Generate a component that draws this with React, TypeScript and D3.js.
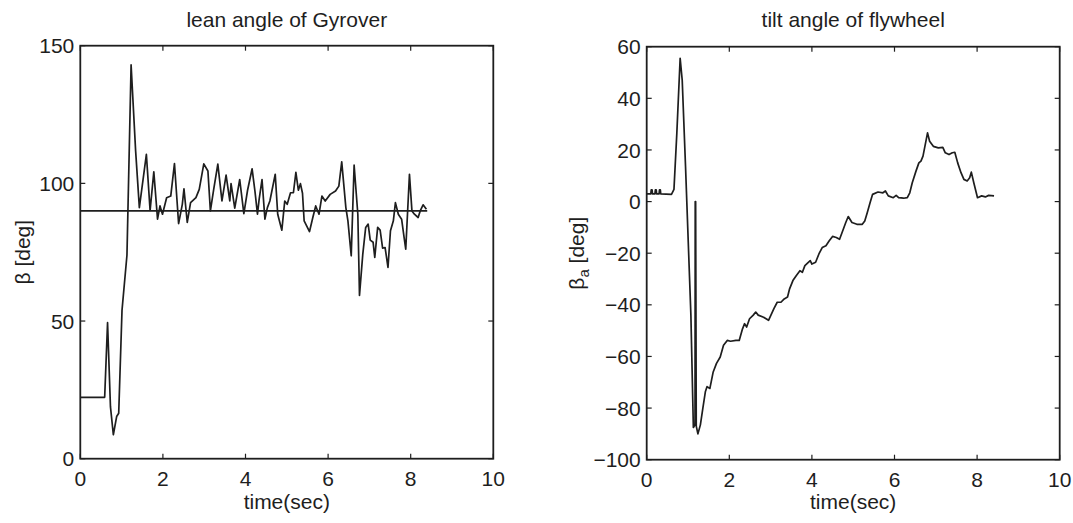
import React from "react";
import * as d3 from "d3";

// Lean angle of Gyrover (deg) over time (sec)
const leanTime = [0, 0.59, 0.66, 0.73, 0.8, 0.88, 0.93, 1.01, 1.13, 1.23, 1.34, 1.43, 1.6, 1.69, 1.78, 1.87, 1.93, 1.99, 2.09, 2.19, 2.28, 2.38, 2.47, 2.51, 2.59, 2.67, 2.8, 2.88, 2.99, 3.09, 3.15, 3.23, 3.33, 3.43, 3.53, 3.62, 3.65, 3.74, 3.86, 3.96, 4.05, 4.16, 4.23, 4.29, 4.33, 4.4, 4.47, 4.53, 4.59, 4.72, 4.78, 4.88, 4.95, 5.01, 5.09, 5.16, 5.22, 5.28, 5.33, 5.38, 5.42, 5.55, 5.63, 5.7, 5.78, 5.85, 5.93, 6.05, 6.18, 6.26, 6.33, 6.43, 6.48, 6.56, 6.63, 6.72, 6.76, 6.84, 6.91, 6.97, 7.02, 7.09, 7.13, 7.2, 7.26, 7.32, 7.38, 7.45, 7.51, 7.58, 7.63, 7.7, 7.78, 7.84, 7.88, 7.97, 8.03, 8.09, 8.18, 8.23, 8.3, 8.38];
const leanDeg = [22.3, 22.3, 49.4, 18.9, 8.7, 15.3, 16.5, 53.9, 74, 143, 111.7, 91.2, 110.5, 90.2, 104.2, 87, 91.8, 88.8, 94.8, 95.4, 107.2, 85.4, 92.4, 98, 85.8, 93, 94.8, 97.8, 107.1, 104.5, 90, 97.8, 107, 93.6, 103, 93.6, 99.9, 91, 101.4, 89, 97.5, 105.3, 97, 88.8, 94.2, 101.4, 87, 91.2, 93.6, 103.3, 88.8, 83, 93.6, 92.4, 96.6, 96.6, 104, 97.5, 99.9, 96.4, 86.4, 82.5, 87.6, 91.8, 88.8, 95.4, 93.6, 96, 97.2, 99, 107.8, 91.2, 86.4, 73.7, 106.6, 88.8, 59.3, 74.3, 84, 85.2, 79.4, 78.6, 73.1, 84, 83, 76.5, 76.7, 69.5, 82.8, 86.4, 93, 88.8, 87, 80.4, 76.1, 103.3, 90, 88.8, 87.6, 90, 92.2, 90.6];

// Upright reference (deg) held over the run
const refTime = [0, 8.4];
const refDeg = [90, 90];

// Tilt angle of the flywheel (deg) over time (sec)
const tiltTime = [0, 0.1, 0.11, 0.13, 0.14, 0.2, 0.21, 0.23, 0.24, 0.3, 0.31, 0.33, 0.34, 0.6, 0.66, 0.73, 0.81, 0.86, 0.94, 1.07, 1.13, 1.17, 1.175, 1.185, 1.2, 1.24, 1.3, 1.36, 1.42, 1.46, 1.53, 1.61, 1.69, 1.78, 1.86, 1.95, 2.03, 2.16, 2.24, 2.32, 2.37, 2.42, 2.49, 2.58, 2.64, 2.7, 2.83, 2.95, 3.08, 3.16, 3.25, 3.33, 3.41, 3.46, 3.54, 3.62, 3.71, 3.77, 3.83, 3.92, 3.96, 4.0, 4.09, 4.17, 4.25, 4.34, 4.42, 4.5, 4.59, 4.67, 4.76, 4.82, 4.88, 4.97, 5.09, 5.22, 5.28, 5.34, 5.41, 5.47, 5.6, 5.72, 5.78, 5.85, 5.97, 6.04, 6.1, 6.22, 6.31, 6.37, 6.43, 6.52, 6.59, 6.64, 6.69, 6.8, 6.85, 6.94, 7.06, 7.17, 7.23, 7.32, 7.4, 7.46, 7.53, 7.61, 7.68, 7.76, 7.82, 7.86, 7.92, 8.01, 8.11, 8.2, 8.28, 8.41];
const tiltDeg = [3, 3, 4.5, 4.5, 3, 3, 4.5, 4.5, 3, 3, 4.5, 4.5, 3, 2.8, 4.7, 26.6, 55.5, 47, 13.7, -44, -87.5, -86.5, 0, 0, -87, -90, -86.5, -80, -73.7, -71.7, -72.4, -66, -62.7, -60.2, -55.7, -53.8, -54.1, -53.8, -53.8, -49.3, -47.3, -48.6, -45.4, -44, -42.8, -44, -44.8, -46, -41.5, -39, -39, -37.7, -37, -33.8, -30.6, -28.7, -26.8, -27.4, -24.8, -23.5, -22.9, -24.2, -23.5, -20.3, -17.8, -17.1, -15.2, -13.5, -13.9, -14.6, -10.7, -8.1, -5.8, -8.1, -8.8, -8.8, -7.5, -4.3, -0.4, 2.8, 3.7, 3.4, 4.1, 2.2, 1.5, 2.4, 1.5, 1.3, 1.5, 3.4, 7.3, 11.8, 15, 15.7, 17.6, 26.6, 23.4, 21.4, 20.8, 21, 18.9, 18.2, 18.9, 19.1, 15, 11.2, 8.6, 8, 9.2, 11.4, 7.3, 1.5, 2.2, 1.8, 2.4, 2.2];

// Axis ticks
const timeTicks = [0, 2, 4, 6, 8, 10];
const leanTicks = [0, 50, 100, 150];
const tiltTicks = [-100, -80, -60, -40, -20, 0, 20, 40, 60];

const INK = "#1e1e1e";
const FONT = "'Liberation Sans', Arial, Helvetica, sans-serif";
const SIZE = 413;
const TICK = 5;
const FS = 21;

type Series = { t: number[]; v: number[] };

function Panel(props: {
  left: number;
  top: number;
  yDomain: [number, number];
  yTicks: number[];
  title: string;
  yLabel: React.ReactNode;
  yLabelX: number;
  series: Series[];
}) {
  const { left, top, yDomain, yTicks, title, yLabel, yLabelX, series } = props;
  const x = d3.scaleLinear().domain([0, 10]).range([left, left + SIZE]);
  const y = d3.scaleLinear().domain(yDomain).range([top + SIZE, top]);
  const bottom = top + SIZE;
  const right = left + SIZE;
  const cx = left + SIZE / 2;
  const cy = top + SIZE / 2;

  const line = d3
    .line<[number, number]>()
    .x((d) => x(d[0]))
    .y((d) => y(d[1]));

  return (
    <g fontFamily={FONT} fill={INK}>
      {series.map((s, i) => (
        <path
          key={i}
          d={line(s.t.map((t, j) => [t, s.v[j]] as [number, number])) || ""}
          fill="none"
          stroke={INK}
          strokeWidth={1.7}
          strokeLinejoin="round"
        />
      ))}
      <rect x={left} y={top} width={SIZE} height={SIZE} fill="none" stroke={INK} strokeWidth={1.8} />
      {timeTicks.map((t) => (
        <g key={"x" + t}>
          <line x1={x(t)} x2={x(t)} y1={bottom} y2={bottom - TICK} stroke={INK} strokeWidth={1.2} />
          <line x1={x(t)} x2={x(t)} y1={top} y2={top + TICK} stroke={INK} strokeWidth={1.2} />
          <text x={x(t)} y={bottom + 27} textAnchor="middle" fontSize={FS}>
            {t}
          </text>
        </g>
      ))}
      {yTicks.map((v) => (
        <g key={"y" + v}>
          <line x1={left} x2={left + TICK} y1={y(v)} y2={y(v)} stroke={INK} strokeWidth={1.2} />
          <line x1={right} x2={right - TICK} y1={y(v)} y2={y(v)} stroke={INK} strokeWidth={1.2} />
          <text x={left - 6} y={y(v)} dy="0.36em" textAnchor="end" fontSize={FS}>
            {v < 0 ? "\u2212" + Math.abs(v) : v}
          </text>
        </g>
      ))}
      <text x={cx} y={27} textAnchor="middle" fontSize={FS}>
        {title}
      </text>
      <text x={cx} y={509} textAnchor="middle" fontSize={FS}>
        time(sec)
      </text>
      <text transform={`translate(${yLabelX},${cy}) rotate(-90)`} textAnchor="middle" fontSize={FS}>
        {yLabel}
      </text>
    </g>
  );
}

export default function App() {
  return (
    <svg
      width={1073}
      height={523}
      viewBox="0 0 1073 523"
      style={{ position: "absolute", left: 0, top: 0, background: "#fff" }}
    >
      <rect width={1073} height={523} fill="#fff" />
      <Panel
        left={80.3}
        top={45.7}
        yDomain={[0, 150]}
        yTicks={leanTicks}
        title="lean angle of Gyrover"
        yLabel={"\u03b2 [deg]"}
        yLabelX={30}
        series={[
          { t: leanTime, v: leanDeg },
          { t: refTime, v: refDeg },
        ]}
      />
      <Panel
        left={646.7}
        top={46.7}
        yDomain={[-100, 60]}
        yTicks={tiltTicks}
        title="tilt angle of flywheel"
        yLabel={
          <>
            {"\u03b2"}
            <tspan fontSize={15} dy={5}>a</tspan>
            <tspan dy={-5}>{" [deg]"}</tspan>
          </>
        }
        yLabelX={584}
        series={[{ t: tiltTime, v: tiltDeg }]}
      />
    </svg>
  );
}
